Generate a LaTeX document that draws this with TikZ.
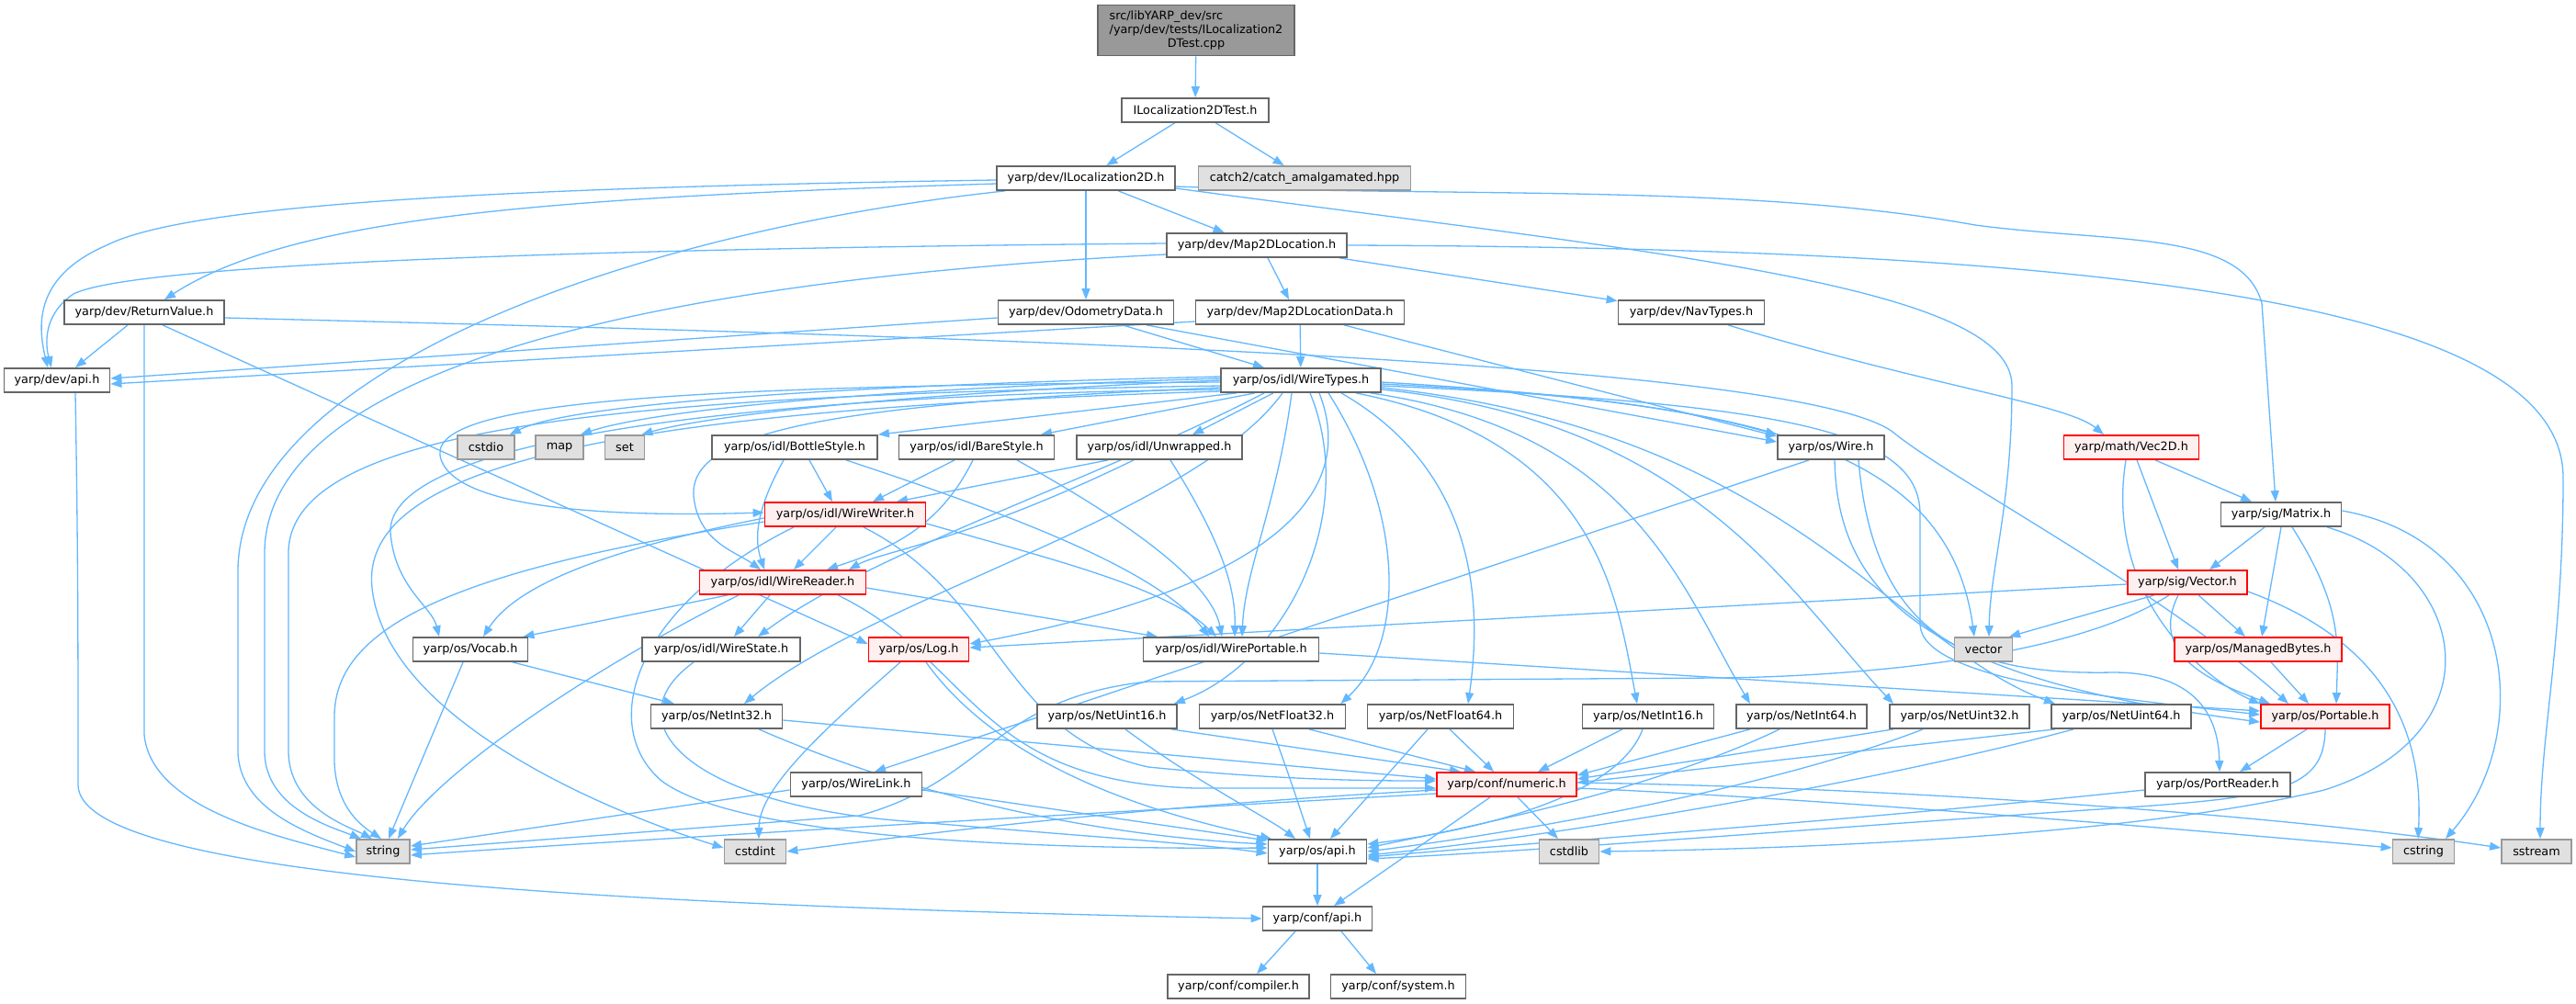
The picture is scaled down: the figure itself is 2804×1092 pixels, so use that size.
\documentclass[tikz,border=0pt]{standalone}
\usepackage{fontspec}
\setmainfont{DejaVu Sans}
\usetikzlibrary{arrows.meta}
\pgfdeclarelayer{edgelayer}
\pgfdeclarelayer{bglayer}
\pgfsetlayers{bglayer,edgelayer,main}
\definecolor{cEdge}{HTML}{63B8FF}
\definecolor{cNorm}{HTML}{666666}
\definecolor{cGrayB}{HTML}{999999}
\definecolor{cGrayF}{HTML}{E0E0E0}
\definecolor{cRedF}{HTML}{FFF0F0}
\definecolor{cSrc}{HTML}{999999}
\newcommand{\nfs}{\fontsize{6.4pt}{7.5pt}\selectfont}
\begin{document}
\begin{tikzpicture}[x=0.5pt,y=-0.5pt,
  nd/.style={draw=cNorm, fill=white, line width=0.9pt, inner sep=0pt, minimum height=13pt, font=\nfs, text=black},
  gr/.style={nd, draw=cGrayB, fill=cGrayF},
  rd/.style={nd, draw=red, fill=cRedF},
  edge/.style={draw=cEdge, line width=0.65pt, -{Triangle[length=6pt,width=4.5pt]}}]
\begin{pgfonlayer}{bglayer}
\fill[white] (0,0) rectangle (2804,1092);
\end{pgfonlayer}
\useasboundingbox (0,0) rectangle (2804,1092);
% nodes
\node[nd, fill=cSrc, minimum width=107pt, minimum height=27.5pt] (src) at (1302,33)
  {\begin{tabular}{@{}l@{}}src/libYARP\_dev/src\\/yarp/dev/tests/ILocalization2\\\multicolumn{1}{@{}c@{}}{DTest.cpp}\end{tabular}};
\node[nd, minimum width=80pt] (t1) at (1301,120) {ILocalization2DTest.h};
\node[nd, minimum width=97pt] (il2d) at (1182,194) {yarp/dev/ILocalization2D.h};
\node[gr, minimum width=115.5pt] (catch) at (1420,194) {catch2/catch\_amalgamated.hpp};
\node[nd, minimum width=98pt] (m2dl) at (1368,267) {yarp/dev/Map2DLocation.h};
\node[nd, minimum width=87pt] (retval) at (157,340) {yarp/dev/ReturnValue.h};
\node[nd, minimum width=95.5pt] (odom) at (1182,340) {yarp/dev/OdometryData.h};
\node[nd, minimum width=113.5pt] (m2dld) at (1415,340) {yarp/dev/Map2DLocationData.h};
\node[nd, minimum width=79.5pt] (nav) at (1841,340) {yarp/dev/NavTypes.h};
\node[nd, minimum width=57.5pt] (devapi) at (62,414) {yarp/dev/api.h};
\node[nd, minimum width=87pt] (wt) at (1416,414) {yarp/os/idl/WireTypes.h};
\node[gr, minimum width=31pt] (cstdio) at (529,487) {cstdio};
\node[gr, minimum width=26pt] (map) at (609,487) {map};
\node[gr, minimum width=21.5pt] (set) at (680,487) {set};
\node[nd, minimum width=90pt] (bottle) at (865,487) {yarp/os/idl/BottleStyle.h};
\node[nd, minimum width=84.5pt] (bare) at (1063,487) {yarp/os/idl/BareStyle.h};
\node[nd, minimum width=90pt] (unwr) at (1262,487) {yarp/os/idl/Unwrapped.h};
\node[nd, minimum width=58pt] (wire) at (1993,487) {yarp/os/Wire.h};
\node[rd, minimum width=73.5pt] (vec2d) at (2320,487) {yarp/math/Vec2D.h};
\node[rd, minimum width=87.5pt] (ww) at (920,560) {yarp/os/idl/WireWriter.h};
\node[nd, minimum width=65.5pt] (matrix) at (2483,560) {yarp/sig/Matrix.h};
\node[rd, minimum width=90.5pt] (wr) at (852,634) {yarp/os/idl/WireReader.h};
\node[rd, minimum width=65pt] (vector) at (2381,634) {yarp/sig/Vector.h};
\node[nd, minimum width=62.5pt] (vocab) at (512,707) {yarp/os/Vocab.h};
\node[nd, minimum width=86pt] (ws) at (785,707) {yarp/os/idl/WireState.h};
\node[rd, minimum width=54.5pt] (log) at (1000,707) {yarp/os/Log.h};
\node[nd, minimum width=95.5pt] (wp) at (1340,707) {yarp/os/idl/WirePortable.h};
\node[gr, minimum width=31.5pt] (vstd) at (2159,707) {vector};
\node[rd, minimum width=91pt] (mb) at (2458,707) {yarp/os/ManagedBytes.h};
\node[nd, minimum width=71.5pt] (ni32) at (780,780) {yarp/os/NetInt32.h};
\node[nd, minimum width=76pt] (nu16) at (1205,780) {yarp/os/NetUint16.h};
\node[nd, minimum width=79.5pt] (nf32) at (1385,780) {yarp/os/NetFloat32.h};
\node[nd, minimum width=79.5pt] (nf64) at (1568,780) {yarp/os/NetFloat64.h};
\node[nd, minimum width=71.5pt] (ni16) at (1794,780) {yarp/os/NetInt16.h};
\node[nd, minimum width=71pt] (ni64) at (1961,780) {yarp/os/NetInt64.h};
\node[nd, minimum width=76pt] (nu32) at (2133,780) {yarp/os/NetUint32.h};
\node[nd, minimum width=76pt] (nu64) at (2309,780) {yarp/os/NetUint64.h};
\node[rd, minimum width=70pt] (port) at (2531,780) {yarp/os/Portable.h};
\node[nd, minimum width=71.5pt] (wl) at (932,854) {yarp/os/WireLink.h};
\node[rd, minimum width=76pt] (num) at (1640,854) {yarp/conf/numeric.h};
\node[nd, minimum width=79pt] (pr) at (2414,854) {yarp/os/PortReader.h};
\node[gr, minimum width=29pt] (string) at (417,927) {string};
\node[gr, minimum width=33.5pt] (cstdint) at (822,927) {cstdint};
\node[nd, minimum width=53.5pt] (osapi) at (1434,927) {yarp/os/api.h};
\node[gr, minimum width=32.5pt] (cstdlib) at (1708,927) {cstdlib};
\node[gr, minimum width=33.5pt] (cstring) at (2638,927) {cstring};
\node[gr, minimum width=38pt] (sstream) at (2761,927) {sstream};
\node[nd, minimum width=59.5pt] (confapi) at (1434,1000) {yarp/conf/api.h};
\node[nd, minimum width=77pt] (comp) at (1348,1074) {yarp/conf/compiler.h};
\node[nd, minimum width=73.5pt] (sys) at (1522,1074) {yarp/conf/system.h};
% edges
\begin{pgfonlayer}{edgelayer}
\draw[edge] (src) -- (t1);
\draw[edge] (t1) -- (il2d);
\draw[edge] (t1) -- (catch);
\draw[edge] (il2d) -- (m2dl);
\draw[edge] (il2d) -- (odom);
\draw[edge] ([yshift=-3pt]il2d.west) .. controls (600,215) and (320,235) .. ([xshift=11pt]retval.north);
\draw[edge] ([yshift=-1pt]il2d.west) .. controls (500,205) and (200,225) .. (116,267) .. controls (40,300) and (40,350) .. ([xshift=-5pt]devapi.north);
\draw[edge] ([xshift=-44pt]il2d.south) .. controls (700,250) and (262,400) .. (259,620) -- (259,820) .. controls (262,880) and (330,905) .. (string.west);
\draw[edge] ([yshift=-5.5pt]il2d.east) .. controls (1800,275) and (2190,310) .. (2190,420) .. controls (2190,550) and (2166,620) .. ([xshift=3pt]vstd.north);
\draw[edge] ([yshift=-4.5pt]il2d.east) .. controls (1600,215) and (1900,200) .. (2150,245) .. controls (2300,265) and (2440,250) .. (2462,330) -- ([xshift=-3pt]matrix.north);
\draw[edge] ([xshift=6pt]m2dl.south) -- ([xshift=-6pt]m2dld.north);
\draw[edge] (m2dl) -- (nav);
\draw[edge] ([yshift=1pt]m2dl.west) .. controls (700,270) and (150,285) .. (80,320) .. controls (50,340) and (48,370) .. ([xshift=-3pt]devapi.north);
\draw[edge] ([yshift=-5pt]m2dl.west) .. controls (800,300) and (292,380) .. (288,600) -- (288,820) .. controls (290,880) and (360,900) .. ([xshift=-12pt]string.north);
\draw[edge] (m2dl.east) .. controls (2300,270) and (2790,330) .. (2790,520) .. controls (2790,700) and (2765,800) .. ([xshift=2pt]sstream.north);
\draw[edge] ([xshift=-9pt]retval.south) -- ([xshift=10pt]devapi.north);
\draw[edge] (retval.south) -- (157,800) .. controls (165,880) and (300,910) .. ([yshift=-3pt]string.west);
\draw[edge] ([xshift=10pt]retval.south) -- ([yshift=3pt]log.west);
\draw[edge] ([yshift=-3pt]retval.east) .. controls (1000,365) and (1950,390) .. (2060,470) .. controls (2120,520) and (2350,640) .. ([xshift=-20pt]port.north);
\draw[edge] ([xshift=20pt]odom.south) -- ([xshift=-20pt]wt.north);
\draw[edge] ([yshift=-3pt]odom.west) -- ([yshift=1pt]devapi.east);
\draw[edge] ([xshift=33pt]odom.south) -- ([yshift=3pt]wire.west);
\draw[edge] (m2dld) -- (wt);
\draw[edge] ([yshift=-5pt]m2dld.west) -- ([yshift=-2pt]devapi.east);
\draw[edge] ([xshift=24pt]m2dld.south) -- ([yshift=6pt]wire.west);
\draw[edge] ([xshift=20pt]nav.south) .. controls (2100,420) and (2250,440) .. ([xshift=-15pt]vec2d.north);
\draw[edge] ([xshift=10pt]devapi.south) .. controls (85,600) and (85,700) .. (85,855) .. controls (88,950) and (600,985) .. (confapi.west);
% WireTypes
\draw[edge] ([yshift=2pt]wt.west) .. controls (900,420) and (620,440) .. ([xshift=-3pt]cstdio.north east);
\draw[edge] ([yshift=1pt]wt.west) .. controls (900,425) and (700,450) .. ([xshift=-2pt]map.north east);
\draw[edge] ([yshift=0pt]wt.west) .. controls (950,430) and (760,455) .. ([xshift=-2pt]set.north east);
\draw[edge] ([xshift=-35pt]wt.south) -- (bottle.north east);
\draw[edge] ([xshift=-25pt]wt.south) -- ([xshift=35pt]bare.north);
\draw[edge] ([xshift=-15pt]wt.south) -- ([xshift=18pt]unwr.north);
\draw[edge] ([yshift=-1pt]wt.west) .. controls (700,420) and (460,440) .. (480,500) .. controls (500,560) and (700,562) .. ([yshift=1pt]ww.west);
\draw[edge] ([yshift=-4pt]wt.west) .. controls (900,440) and (750,470) .. (755,540) .. controls (760,590) and (800,600) .. ([xshift=-12pt]wr.north);
\draw[edge] ([xshift=-5pt]wt.south) .. controls (1390,550) and (1355,620) .. ([xshift=6pt]wp.north);
\draw[edge] ([xshift=-20pt]wt.south) .. controls (1200,520) and (950,600) .. ([xshift=20pt]ws.north);
\draw[edge] ([xshift=-10pt]wt.south) .. controls (1300,560) and (950,650) .. ([xshift=15pt]ni32.north);
\draw[edge] ([xshift=10pt]wt.south) .. controls (1480,540) and (1380,640) .. ([yshift=3pt]log.east);
\draw[edge] ([yshift=-2pt]wt.east) .. controls (1750,430) and (1850,450) .. (wire.north west);
\draw[edge] ([xshift=5pt]wt.south) .. controls (1480,560) and (1400,720) .. ([xshift=-2pt]nu16.north east);
\draw[edge] ([xshift=15pt]wt.south) .. controls (1530,560) and (1530,700) .. ([xshift=-3pt]nf32.north east);
\draw[edge] ([xshift=22pt]wt.south) .. controls (1620,520) and (1610,680) .. ([xshift=15pt]nf64.north);
\draw[edge] ([xshift=30pt]wt.south) .. controls (1740,480) and (1760,650) .. ([xshift=-6pt]ni16.north);
\draw[edge] ([xshift=38pt]wt.south) .. controls (1780,470) and (1830,640) .. ([xshift=-28pt]ni64.north);
\draw[edge] ([yshift=-5pt]wt.east) .. controls (1850,460) and (1950,650) .. ([xshift=-36pt]nu32.north);
\draw[edge] ([yshift=-4pt]wt.east) .. controls (1950,470) and (2060,700) .. ([xshift=-36pt]nu64.north);
\draw[edge] ([yshift=-3pt]wt.east) .. controls (1950,440) and (2090,470) .. (2090,560) -- (2090,680) .. controls (2092,740) and (2300,760) .. ([yshift=1pt]port.west);
\draw[edge] ([yshift=-1pt]wt.east) .. controls (1900,440) and (2120,480) .. ([xshift=-5pt]vstd.north);
\draw[edge] ([yshift=-6pt]wt.west) .. controls (700,445) and (390,500) .. (405,640) .. controls (420,780) and (650,880) .. ([yshift=2pt]cstdint.west);
\draw[edge] ([yshift=-5pt]wt.west) .. controls (800,430) and (420,480) .. (425,580) .. controls (430,640) and (470,660) .. ([xshift=-17pt]vocab.north);
\draw[edge] ([yshift=-3pt]wt.west) .. controls (700,430) and (318,460) .. (314,600) -- (314,820) .. controls (316,880) and (380,900) .. ([xshift=-6pt]string.north);
% styles
\draw[edge] ([xshift=8pt]bottle.south) -- ([xshift=-7pt]ww.north);
\draw[edge] ([xshift=-6pt]bottle.south) .. controls (820,560) and (822,590) .. ([xshift=-10pt]wr.north);
\draw[edge] ([xshift=28pt]bottle.south) .. controls (1100,560) and (1260,620) .. ([xshift=-12pt]wp.north);
\draw[edge] ([xshift=-12pt]bare.south) -- ([xshift=15pt]ww.north);
\draw[edge] ([xshift=-2pt]bare.south) .. controls (1020,580) and (960,600) .. ([xshift=24pt]wr.north);
\draw[edge] ([xshift=22pt]bare.south) .. controls (1250,580) and (1320,640) .. ([xshift=-5pt]wp.north);
\draw[edge] ([xshift=-28pt]unwr.south) -- ([xshift=28pt]ww.north);
\draw[edge] ([xshift=-14pt]unwr.south) .. controls (1050,590) and (960,600) .. ([xshift=36pt]wr.north);
\draw[edge] ([xshift=6pt]unwr.south) .. controls (1330,590) and (1345,640) .. ([xshift=2pt]wp.north);
% WireWriter
\draw[edge] ([xshift=-5pt]ww.south) -- ([xshift=6pt]wr.north);
\draw[edge] ([yshift=-2pt]ww.west) .. controls (650,600) and (560,640) .. ([xshift=7pt]vocab.north);
\draw[edge] ([yshift=-4pt]ww.west) .. controls (500,620) and (364,680) .. (364,780) -- (364,830) .. controls (366,880) and (395,900) .. ([xshift=-1pt]string.north);
\draw[edge] ([yshift=-5pt]ww.east) .. controls (1150,610) and (1270,640) .. ([xshift=-8pt]wp.north);
\draw[edge] ([xshift=-28pt]ww.south) .. controls (690,660) and (650,790) .. (720,850) .. controls (800,910) and (1100,925) .. ([yshift=2pt]osapi.west);
\draw[edge] ([xshift=10pt]ww.south) .. controls (1090,650) and (1090,800) .. (1250,835) .. controls (1400,850) and (1500,850) .. ([yshift=2pt]num.west);
% WireReader
\draw[edge] ([xshift=-30pt]wr.south) -- ([xshift=-3pt]vocab.north east);
\draw[edge] ([xshift=-7pt]wr.south) -- ([xshift=7pt]ws.north);
\draw[edge] ([xshift=-24pt]wr.south) .. controls (620,740) and (470,850) .. ([xshift=8pt]string.north);
\draw[edge] ([yshift=-3pt]wr.east) -- ([xshift=-40pt]wp.north);
\draw[edge] ([xshift=30pt]wr.south) .. controls (1060,720) and (1060,850) .. (1300,858) -- ([yshift=-2pt]num.west);
% others
\draw[edge] ([xshift=-4pt]vocab.south) -- ([xshift=3pt]string.north);
\draw[edge] ([xshift=23pt]vocab.south) -- ([xshift=-23pt]ni32.north);
\draw[edge] ([xshift=-15pt]ws.south) .. controls (660,790) and (760,880) .. (1000,895) .. controls (1200,912) and (1300,918) .. ([yshift=-1pt]osapi.west);
\draw[edge] ([xshift=-10pt]log.south) .. controls (890,800) and (826,860) .. ([xshift=2pt]cstdint.north);
\draw[edge] ([xshift=4pt]log.south) .. controls (1100,850) and (1300,895) .. ([xshift=-25pt]osapi.north);
\draw[edge] ([yshift=-2pt]wp.east) -- ([yshift=3pt]port.west);
% Net*
\draw[edge] ([yshift=-2pt]ni32.east) -- ([yshift=3pt]num.west);
\draw[edge] ([xshift=23pt]ni32.south) .. controls (1000,870) and (1200,910) .. ([yshift=4pt]osapi.west);
\draw[edge] ([xshift=35pt]nu16.south) -- ([xshift=-25pt]num.north);
\draw[edge] ([xshift=10pt]nu16.south) .. controls (1300,850) and (1380,890) .. ([xshift=-12pt]osapi.north);
\draw[edge] ([xshift=20pt]nf32.south) -- ([xshift=-17pt]num.north);
\draw[edge] (nf32.south) .. controls (1405,850) .. ([xshift=-4pt]osapi.north);
\draw[edge] ([xshift=5pt]nf64.south) -- ([xshift=-7pt]num.north);
\draw[edge] ([xshift=-7pt]nf64.south) -- ([xshift=7pt]osapi.north);
\draw[edge] ([xshift=-14pt]ni16.south) -- ([xshift=17pt]num.north);
\draw[edge] ([xshift=-3pt]ni16.south) .. controls (1760,870) and (1600,905) .. ([yshift=4pt]osapi.east);
\draw[edge] ([xshift=-28pt]ni64.south) -- ([yshift=5pt]num.east);
\draw[edge] ([xshift=-12pt]ni64.south) .. controls (1800,860) and (1600,900) .. ([yshift=2pt]osapi.east);
\draw[edge] ([xshift=-36pt]nu32.south) -- ([yshift=3pt]num.east);
\draw[edge] ([xshift=-20pt]nu32.south) .. controls (1950,850) and (1700,900) .. (osapi.east);
\draw[edge] ([xshift=-36pt]nu64.south) -- ([yshift=1pt]num.east);
\draw[edge] ([xshift=-26pt]nu64.south) .. controls (2050,850) and (1700,910) .. ([yshift=-2pt]osapi.east);
% Portable & co
\draw[edge] ([xshift=-10pt]port.south) -- ([xshift=12pt]pr.north);
\draw[edge] (port.south) .. controls (2530,860) and (2480,868) .. (2300,880) .. controls (2000,900) and (1700,925) .. ([yshift=-4pt]osapi.east);
\draw[edge] ([yshift=-3pt]pr.west) .. controls (2000,895) and (1700,915) .. ([yshift=-3pt]osapi.east);
\draw[edge] ([xshift=-18pt]vector.south) -- ([xshift=14pt]vstd.north);
\draw[edge] ([xshift=6pt]vector.south) -- ([xshift=-7pt]mb.north);
\draw[edge] ([xshift=-5pt]vector.south) .. controls (2340,710) and (2400,740) .. ([xshift=-30pt]port.north);
\draw[edge] ([yshift=-1pt]vector.west) -- ([yshift=1pt]log.east);
\draw[edge] ([xshift=-10pt]vector.south) .. controls (2250,720) and (2000,737) .. (1869,738) -- (1250,742) .. controls (1080,760) and (1075,850) .. (935,888) -- ([yshift=1pt]string.east);
\draw[edge] ([yshift=-5pt]vector.east) .. controls (2600,700) and (2638,800) .. ([xshift=-3pt]cstring.north);
\draw[edge] ([xshift=-9pt]matrix.south) -- ([xshift=12pt]vector.north);
\draw[edge] (matrix.south) -- ([xshift=2pt]mb.north);
\draw[edge] ([xshift=6pt]matrix.south) .. controls (2550,660) and (2545,700) .. ([xshift=6pt]port.north);
\draw[edge] ([yshift=2pt]matrix.east) .. controls (2740,590) and (2760,800) .. ([xshift=12pt]cstring.north);
\draw[edge] ([xshift=25pt]matrix.south) .. controls (2690,620) and (2720,800) .. (2530,860) .. controls (2300,915) and (1900,925) .. (cstdlib.east);
\draw[edge] ([xshift=13pt]vec2d.south) -- ([xshift=-16pt]matrix.north);
\draw[edge] ([xshift=3pt]vec2d.south) -- ([xshift=-5pt]vector.north);
\draw[edge] ([xshift=-3pt]vec2d.south) .. controls (2290,650) and (2400,740) .. (port.north west);
\draw[edge] ([xshift=7pt]mb.south) -- ([xshift=-9pt]port.north);
% numeric
\draw[edge] ([xshift=-9pt]num.south) -- ([xshift=9pt]confapi.north);
\draw[edge] ([xshift=6pt]num.south) -- ([xshift=-6pt]cstdlib.north);
\draw[edge] ([yshift=-3pt]num.west) .. controls (1200,880) and (950,915) .. (cstdint.east);
\draw[edge] ([yshift=-5pt]num.west) .. controls (1100,890) and (600,920) .. ([yshift=-2pt]string.east);
\draw[edge] ([yshift=-2pt]num.east) .. controls (2000,870) and (2400,905) .. ([yshift=2pt]cstring.west);
\draw[edge] ([yshift=1pt]num.east) .. controls (2100,858) and (2500,890) .. ([yshift=2pt]sstream.west);
\draw[edge] (osapi) -- (confapi);
\draw[edge] ([xshift=-12pt]confapi.south) -- ([xshift=10pt]comp.north);
\draw[edge] ([xshift=13pt]confapi.south) -- ([xshift=-12pt]sys.north);
% Wire
\draw[edge] ([xshift=-12pt]wire.south) -- ([xshift=10pt]wl.north);
\draw[edge] ([xshift=2pt]wire.south) .. controls (2000,650) and (2100,740) .. ([yshift=-3pt]port.west);
\draw[edge] ([xshift=15pt]wire.south) .. controls (2040,700) and (2150,735) .. (2300,732) .. controls (2400,732) and (2415,790) .. ([xshift=1pt]pr.north);
\draw[edge] ([yshift=-3pt]wl.west) -- ([yshift=3pt]string.east);
\draw[edge] ([yshift=-3pt]wl.east) -- ([yshift=6pt]osapi.west);
\end{pgfonlayer}
\end{tikzpicture}
\end{document}
